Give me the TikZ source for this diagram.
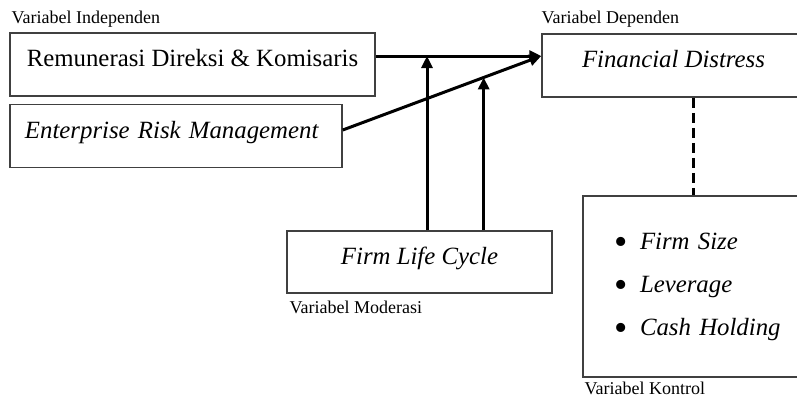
\documentclass[tikz,border=0pt]{standalone}
\usepackage{fontspec}
\setmainfont{Liberation Serif}
\usetikzlibrary{positioning, arrows.meta, calc}

\newcommand{\ctrlitem}{\makebox[13pt][l]{\raisebox{-2.5pt}{\fontsize{19}{19}\selectfont\textbullet}}}

\begin{document}
\begin{tikzpicture}
    [
        x=0.5pt, y=-0.5pt, label distance=0pt,
        box_node/.style={rectangle, draw=black!75, line width=0.75pt, inner xsep=7.5pt, font=\fontsize{12.4}{15}\selectfont},
        title_node/.style={box_node, minimum height=31.5pt, text height=9pt, text depth=7pt},
        var_label/.style={font=\fontsize{9}{10}\selectfont, inner sep=0pt},
        link/.style={-{Triangle[length=6pt, width=5.5pt]}, line width=1.5pt, color=black},
        dash_link/.style={line width=1.5pt, color=black, dash pattern=on 5pt off 2.5pt},
    ]
        \useasboundingbox (0,0) rectangle (797,398);
        \node[title_node, minimum width=182.5pt, label={[var_label, anchor=south west, xshift=1pt, yshift=2.5pt]north west:Variabel Independen}] (remun) at (192.5,64.5) {Remunerasi Direksi \& Komisaris};
        \node[title_node, text width=151pt, align=left] (erm) at (176,136) {\textit{Enterprise Risk Management}};
        \node[title_node, minimum width=131.5pt, label={[var_label, anchor=south west, yshift=3pt]north west:Variabel Dependen}] (fd) at (673.5,65.5) {\textit{Financial Distress}};
        \node[title_node, minimum width=132.5pt, minimum height=31pt, label={[var_label, anchor=north west, xshift=1.5pt, yshift=-3.3pt]south west:Variabel Moderasi}] (flc) at (419.5,262) {\textit{Firm Life Cycle}};
        \node[box_node, inner xsep=15.5pt, text width=92.5pt, minimum height=90.5pt, align=left, font=\fontsize{12.4}{21.5}\selectfont, label={[var_label, anchor=north west, xshift=1pt, yshift=-2pt]south west:Variabel Kontrol}] (ctrl) at (706.5,286.5) {\ctrlitem\textit{Firm Size}\\ \ctrlitem\textit{Leverage}\\ \ctrlitem\textit{Cash Holding}};
        \coordinate (tgt) at ([yshift=4.75pt]fd.west);
        \coordinate (erm_out) at ([yshift=3pt]erm.east);
        \coordinate (m1) at (427,0);
        \coordinate (m2) at ($(erm_out)!0.71!(tgt)$);
        \coordinate (ctrl_link) at (693,0);
        \draw[link] (remun.east |- tgt) -- (tgt);
        \draw[link] (erm_out) -- (tgt);
        \draw[link] (flc.north -| m1) -- (m1 |- tgt);
        \draw[link] (flc.north -| m2) -- (m2);
        \draw[dash_link] (fd.south -| ctrl_link) -- (ctrl.north -| ctrl_link);
    \end{tikzpicture}
\end{document}
